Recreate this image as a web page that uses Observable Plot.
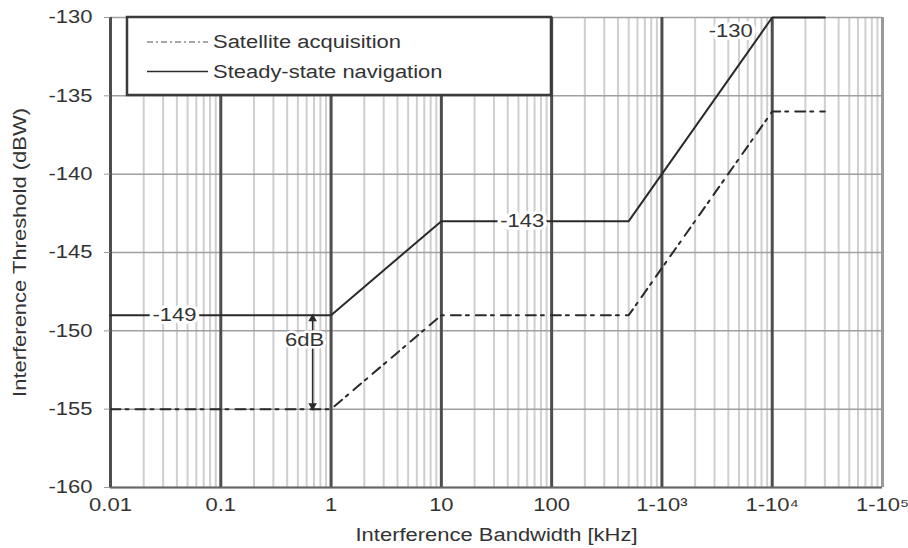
<!DOCTYPE html>
<html>
<head>
<meta charset="utf-8">
<script src="https://cdn.jsdelivr.net/npm/d3@7"></script>
<script src="https://cdn.jsdelivr.net/npm/@observablehq/plot@0.6"></script>
<style>
  html, body { margin: 0; padding: 0; background: #fff; }
  #wrap { position: relative; width: 908px; height: 548px; }
  #legend { position: absolute; left: 0; top: 0; pointer-events: none; }
  text { font-family: "Liberation Sans", Arial, sans-serif; }
</style>
</head>
<body>
<div id="wrap"></div>
<script>
// ---- Data ----
const steadyX = [0.01, 1, 10, 500, 10000, 30000];
const steadyY = [-149, -149, -143, -143, -130, -130];
const acqX = [0.01, 1, 10, 500, 10000, 30000];
const acqY = [-155, -155, -149, -149, -136, -136];

const yTicks = [-160, -155, -150, -145, -140, -135, -130];
const yTickLabels = ["-160", "-155", "-150", "-145", "-140", "-135", "-130"];
const decades = [0.01, 0.1, 1, 10, 100, 1000, 10000];
const xTickValues = [0.01, 0.1, 1, 10, 100, 1000, 10000, 100000];
const xTickLabels = ["0.01", "0.1", "1", "10", "100", "1-10\u00B3", "1-10\u2074", "1-10\u2075"];

const valueLabels = ["-149", "-143", "-130"];
const valueLabelX = [0.038, 54, 4200];
const valueLabelY = [-149, -143, -130.9];

const gapLabel = ["6dB"];
const gapLabelX = [0.574];
const gapLabelY = [-150.6];
const gapArrowX = [0.68];
const gapTop = [-149];
const gapBottom = [-155];

const legendNames = ["Satellite acquisition", "Steady-state navigation"];

// ---- Derived tables ----
const steady = steadyX.map((x, i) => ({x, y: steadyY[i]}));
const acq = acqX.map((x, i) => ({x, y: acqY[i]}));
const minorTicks = [];
for (const d of decades) for (let k = 2; k <= 9; k++) minorTicks.push(d * k);
const labels = valueLabels.map((t, i) => ({t, x: valueLabelX[i], y: valueLabelY[i]}));
const gap = gapLabel.map((t, i) => ({t, x: gapLabelX[i], y: gapLabelY[i], ax: gapArrowX[i], y1: gapTop[i], y2: gapBottom[i]}));

const ink = "#2a2a2a";
const dashDot = "10,5,3,7";

const chart = Plot.plot({
  width: 908,
  height: 548,
  marginLeft: 110,
  marginRight: 26,
  marginTop: 17,
  marginBottom: 61,
  style: {fontFamily: "'Liberation Sans', Arial, sans-serif", fontSize: "18px", color: "#333", background: "#fff", overflow: "visible"},
  x: {type: "log", domain: [0.01, 100000]},
  y: {domain: [-160, -130]},
  marks: [
    Plot.ruleX(minorTicks, {stroke: "#cfcfcf", strokeWidth: 2}),
    Plot.ruleY(yTicks, {stroke: "#a0a0a0", strokeWidth: 1.5}),
    Plot.ruleX(decades, {stroke: "#4d4d4d", strokeWidth: 3}),
    Plot.ruleX([100000], {stroke: "#9a9a9a", strokeWidth: 3}),
    Plot.ruleY([-160], {stroke: "#666", strokeWidth: 2}),
    Plot.line(acq, {x: "x", y: "y", stroke: ink, strokeWidth: 2, strokeDasharray: dashDot}),
    Plot.line(steady, {x: "x", y: "y", stroke: ink, strokeWidth: 2}),
    Plot.link(gap, {x1: "ax", x2: "ax", y1: "y1", y2: "y2", stroke: ink, strokeWidth: 1.5, insetTop: 4, insetBottom: 4}),
    Plot.dot(gap, {x: "ax", y: "y1", symbol: "triangle", r: 3.2, dy: 3.5, fill: ink, stroke: "none"}),
    Plot.dot(gap, {x: "ax", y: "y2", symbol: "triangle", r: 3.2, dy: -3.5, rotate: 180, fill: ink, stroke: "none"}),
    Plot.text(gap, {x: "x", y: "y", text: "t", fill: "#333", stroke: "#fff", strokeWidth: 5, fontSize: 18}),
    Plot.text(labels, {x: "x", y: "y", text: "t", fill: "#333", stroke: "#fff", strokeWidth: 6, fontSize: 18}),
    Plot.axisY({ticks: yTicks, tickFormat: (d) => yTickLabels[yTicks.indexOf(d)], tickSize: 6, tickPadding: 12, stroke: "#999", fill: "#333",
      label: "Interference Threshold (dBW)", labelAnchor: "center", labelOffset: 97, labelArrow: "none"}),
    Plot.axisX({ticks: xTickValues, tickFormat: (d) => xTickLabels[xTickValues.indexOf(d)], tickSize: 0, tickPadding: 11, fill: "#333",
      label: "Interference Bandwidth [kHz]", labelAnchor: "center", labelOffset: 53, labelArrow: "none"})
  ]
});

const wrap = document.getElementById("wrap");
wrap.appendChild(chart);

// ---- Legend overlay (inside the plot frame, top-left) ----
const ns = "http://www.w3.org/2000/svg";
const leg = document.createElementNS(ns, "svg");
leg.setAttribute("id", "legend");
leg.setAttribute("width", 908);
leg.setAttribute("height", 548);
const box = document.createElementNS(ns, "rect");
box.setAttribute("x", 127); box.setAttribute("y", 17);
box.setAttribute("width", 424); box.setAttribute("height", 78);
box.setAttribute("fill", "#fff"); box.setAttribute("stroke", "#3a3a3a"); box.setAttribute("stroke-width", 2.5);
leg.appendChild(box);
const legStyles = [
  {dash: "6,3,2,3", stroke: "#8a8a8a", w: 1.3},
  {dash: null, stroke: ink, w: 1.6}
];
legendNames.forEach((name, i) => {
  const yy = 42 + i * 29.5;
  const ln = document.createElementNS(ns, "line");
  ln.setAttribute("x1", 147); ln.setAttribute("x2", 208);
  ln.setAttribute("y1", yy); ln.setAttribute("y2", yy);
  ln.setAttribute("stroke", legStyles[i].stroke);
  ln.setAttribute("stroke-width", legStyles[i].w);
  if (legStyles[i].dash) ln.setAttribute("stroke-dasharray", legStyles[i].dash);
  leg.appendChild(ln);
  const tx = document.createElementNS(ns, "text");
  tx.setAttribute("x", 213); tx.setAttribute("y", yy + 6);
  tx.setAttribute("font-size", 18); tx.setAttribute("fill", "#333");
  tx.textContent = name;
  leg.appendChild(tx);
});
wrap.appendChild(leg);

// The reference typeface is wider than Arial; stretch glyphs to match.
const S = 1.22;
document.querySelectorAll("#wrap text").forEach((el) => {
  const len = el.getComputedTextLength();
  if (len > 0) {
    el.setAttribute("textLength", (len * S).toFixed(1));
    el.setAttribute("lengthAdjust", "spacingAndGlyphs");
  }
});
</script>
</body>
</html>
